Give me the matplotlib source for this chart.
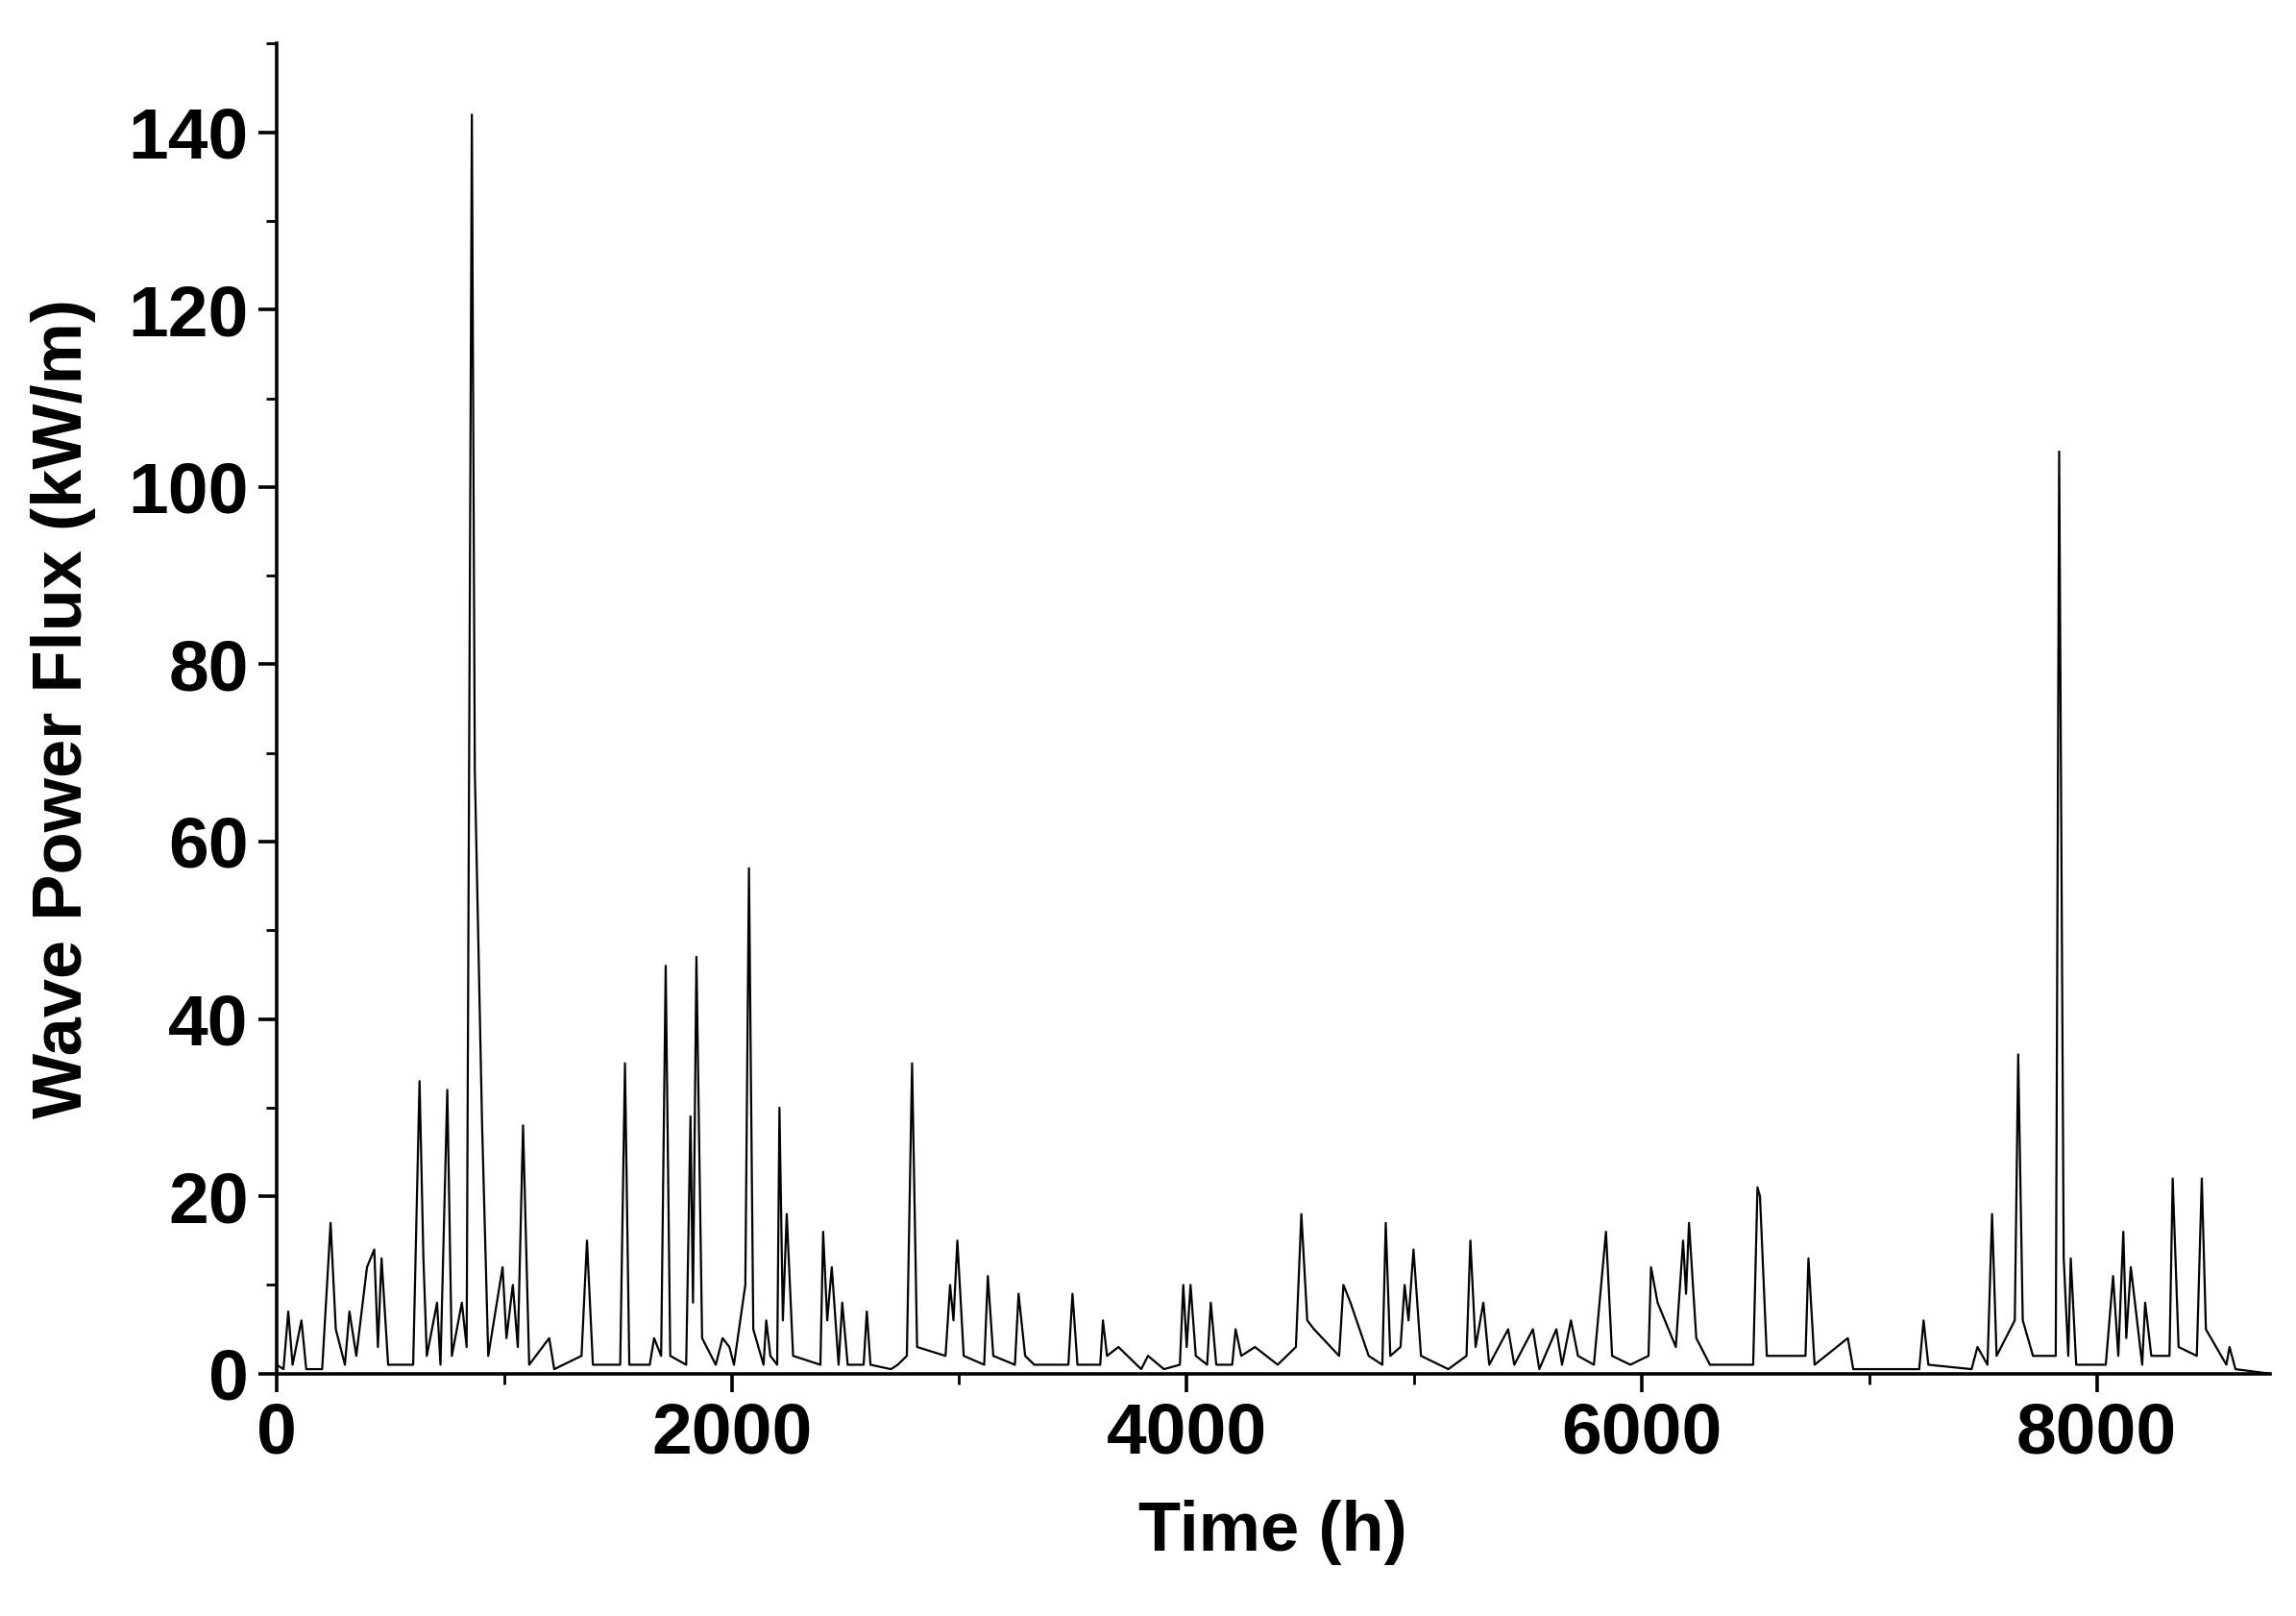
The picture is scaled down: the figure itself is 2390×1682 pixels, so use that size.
import matplotlib.pyplot as plt
import matplotlib
from matplotlib.ticker import MultipleLocator

matplotlib.rcParams['font.family'] = ['Liberation Sans', 'DejaVu Sans']
matplotlib.rcParams['font.weight'] = 'bold'

# hours and wave power flux (kW/m); rows line up
hours = [
    0, 30, 51, 70, 109, 130, 200, 237, 260, 300,
    320, 350, 397, 429, 445, 461, 490, 600, 628, 645,
    660, 705, 720, 750, 770, 814, 835, 858, 871, 903,
    930, 993, 1010, 1038, 1060, 1083, 1110, 1198, 1220, 1340,
    1364, 1390, 1510, 1531, 1550, 1640, 1659, 1690, 1710, 1730,
    1800, 1819, 1830, 1845, 1870, 1930, 1960, 1990, 2010, 2060,
    2076, 2095, 2140, 2152, 2170, 2200, 2210, 2225, 2242, 2270,
    2390, 2402, 2420, 2440, 2470, 2486, 2510, 2580, 2594, 2610,
    2700, 2730, 2770, 2793, 2815, 2940, 2960, 2975, 2992, 3020,
    3110, 3126, 3150, 3245, 3261, 3290, 3330, 3480, 3498, 3520,
    3620, 3632, 3650, 3700, 3800, 3830, 3900, 3970, 3985, 4000,
    4017, 4040, 4090, 4106, 4130, 4200, 4215, 4240, 4300, 4400,
    4480, 4504, 4530, 4560, 4670, 4689, 4720, 4800, 4860, 4875,
    4895, 4940, 4958, 4975, 4997, 5030, 5150, 5230, 5247, 5270,
    5304, 5330, 5413, 5440, 5522, 5550, 5625, 5650, 5689, 5720,
    5790, 5843, 5870, 5950, 6030, 6041, 6070, 6150, 6182, 6195,
    6208, 6240, 6300, 6490, 6509, 6520, 6550, 6720, 6733, 6760,
    6906, 6930, 7100, 7220, 7239, 7260, 7450, 7476, 7520, 7540,
    7560, 7640, 7655, 7675, 7720, 7820, 7835, 7855, 7875, 7886,
    7910, 8040, 8072, 8095, 8117, 8130, 8150, 8200, 8213, 8240,
    8320, 8334, 8360, 8440, 8462, 8480, 8570, 8584, 8610, 8760,
]
flux = [
    1, 0.5, 7, 1, 6, 0.5, 0.5, 17, 5, 1,
    7, 2, 12, 14, 3, 13, 1, 1, 33, 13,
    2, 8, 1, 32, 2, 8, 3, 142, 68, 28,
    2, 12, 4, 10, 3, 28, 1, 4, 0.5, 2,
    15, 1, 1, 35, 1, 1, 4, 2, 46, 2,
    1, 29, 8, 47, 4, 1, 4, 3, 1, 10,
    57, 5, 1, 6, 2, 1, 30, 6, 18, 2,
    1, 16, 6, 12, 1, 8, 1, 1, 7, 1,
    0.5, 1, 2, 35, 3, 2, 10, 6, 15, 2,
    1, 11, 2, 1, 9, 2, 1, 1, 9, 1,
    1, 6, 2, 3, 0.5, 2, 0.5, 1, 10, 3,
    10, 2, 1, 8, 1, 1, 5, 2, 3, 1,
    3, 18, 6, 5, 2, 10, 8, 2, 1, 17,
    2, 3, 10, 6, 14, 2, 0.5, 2, 15, 3,
    8, 1, 5, 1, 5, 0.5, 5, 1, 6, 2,
    1, 16, 2, 1, 2, 12, 8, 3, 15, 9,
    17, 4, 1, 1, 21, 20, 2, 2, 13, 1,
    4, 0.5, 0.5, 0.5, 6, 1, 0.5, 3, 1, 18,
    2, 6, 36, 6, 2, 2, 104, 13, 2, 13,
    1, 1, 11, 2, 16, 4, 12, 1, 8, 2,
    2, 22, 3, 2, 22, 5, 1, 3, 0.5, 0,
]


def plot(output_path):
    fig = plt.figure(figsize=(11.95, 8.41), dpi=200)
    ax = fig.add_axes([0.1205, 0.15, 0.868, 0.823])
    ax.plot(hours, flux, color="k", linewidth=0.8)

    ax.set_xlim(0, 8760)
    ax.set_ylim(0, 150)
    ax.xaxis.set_major_locator(MultipleLocator(2000))
    ax.xaxis.set_minor_locator(MultipleLocator(1000))
    ax.yaxis.set_major_locator(MultipleLocator(20))
    ax.yaxis.set_minor_locator(MultipleLocator(10))
    ax.spines["top"].set_visible(False)
    ax.spines["right"].set_visible(False)
    ax.spines["left"].set_linewidth(1.3)
    ax.spines["bottom"].set_linewidth(1.3)
    ax.tick_params(which="major", direction="out", length=7, width=1.3, labelsize=27)
    ax.tick_params(which="minor", direction="out", length=4, width=1.0)
    for lab in ax.get_xticklabels() + ax.get_yticklabels():
        lab.set_fontweight("bold")

    ax.set_xlabel("Time (h)", fontsize=26, fontweight="bold", labelpad=12)
    ax.set_ylabel("Wave Power Flux (kW/m)", fontsize=26, fontweight="bold", labelpad=12)
    fig.savefig(output_path, dpi=200)
    plt.close("all")


if __name__ == "__main__":
    plot("out.png")
